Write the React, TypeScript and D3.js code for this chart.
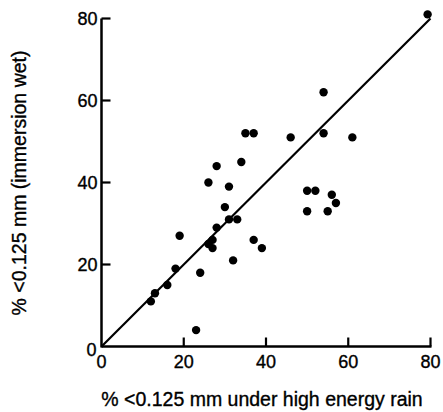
import React from "react";
import * as d3 from "d3";

const xValues = [26, 31, 28, 30, 31, 33, 28, 19, 37, 39, 26, 27, 27, 32, 18, 24, 16, 13, 12, 23, 35, 37, 34, 79.3, 54, 46, 54, 61, 50, 52, 56, 57, 50, 55];
const yValues = [40, 39, 44, 34, 31, 31, 29, 27, 26, 24, 25, 26, 24, 21, 19, 18, 15, 13, 11, 4, 52, 52, 45, 81, 62, 51, 52, 51, 38, 38, 37, 35, 33, 33];
const lineX = [0, 80];
const lineY = [0, 80];
const tickValues = [20, 40, 60, 80];
const xTitle = "% <0.125 mm under high energy rain";
const yTitle = "% <0.125 mm (immersion wet)";

const W = 443;
const H = 412;
const FONT = "'Liberation Sans', Arial, Helvetica, sans-serif";
const textStyle = { stroke: "#000", strokeWidth: 0.35 };

export default function App() {
  const x = d3.scaleLinear().domain([0, 80]).range([101.5, 430.5]);
  const y = d3.scaleLinear().domain([0, 80]).range([346.5, 18.5]);
  const line = d3
    .line<number>()
    .x((_, i) => x(lineX[i]))
    .y((_, i) => y(lineY[i]));
  const tickLen = 9;
  return (
    <svg
      width={W}
      height={H}
      style={{ position: "absolute", left: 0, top: 0, background: "#fff" }}
    >
      <rect width={W} height={H} fill="#fff" />
      <line x1={x(0)} x2={x(0)} y1={y(0) + 1} y2={y(80)} stroke="#000" strokeWidth={2.5} />
      <line x1={x(0)} x2={x(80) + 1} y1={y(0)} y2={y(0)} stroke="#000" strokeWidth={2.5} />
      {tickValues.map((t) => (
        <g key={"yt" + t}>
          <line x1={x(0)} x2={x(0) + tickLen} y1={y(t)} y2={y(t)} stroke="#000" strokeWidth={2.2} />
          <text x={x(0) - 4} y={y(t)} dy="0.36em" textAnchor="end" fontFamily={FONT} fontSize={18} style={textStyle}>
            {t}
          </text>
        </g>
      ))}
      <text x={x(0) - 5} y={y(0) + 3} dy="0.36em" textAnchor="end" fontFamily={FONT} fontSize={18} style={textStyle}>
        0
      </text>
      {tickValues.map((t) => (
        <g key={"xt" + t}>
          <line x1={x(t)} x2={x(t)} y1={y(0)} y2={y(0) - tickLen} stroke="#000" strokeWidth={2.2} />
          <text x={x(t)} y={368} textAnchor="middle" fontFamily={FONT} fontSize={18} style={textStyle}>
            {t}
          </text>
        </g>
      ))}
      <text x={x(0)} y={368} textAnchor="middle" fontFamily={FONT} fontSize={18} style={textStyle}>
        0
      </text>
      <path d={line(lineX) || ""} fill="none" stroke="#000" strokeWidth={2.2} />
      {xValues.map((v, i) => (
        <circle key={i} cx={x(v)} cy={y(yValues[i])} r={4.2} fill="#000" />
      ))}
      <text x={262} y={406} textAnchor="middle" fontFamily={FONT} fontSize={19.5} style={textStyle}>
        {xTitle}
      </text>
      <text
        transform={`translate(26,183) rotate(-90)`}
        textAnchor="middle"
        fontFamily={FONT}
        fontSize={19.5}
        style={textStyle}
      >
        {yTitle}
      </text>
    </svg>
  );
}
